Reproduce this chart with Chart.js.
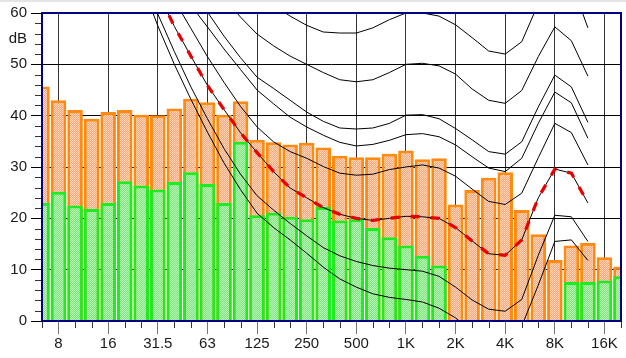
<!DOCTYPE html>
<html><head><meta charset="utf-8">
<script src="https://cdn.jsdelivr.net/npm/chart.js@4.4.0/dist/chart.umd.min.js"></script>
<style>
html,body{margin:0;padding:0;background:#fff;overflow:hidden}
#wrap{position:relative;width:626px;height:358px}
#topline{position:absolute;left:0;top:0;width:626px;height:2px;background:#e4e4e4}
canvas{display:block}
</style></head><body>
<div id="wrap"><canvas id="c" width="626" height="358"></canvas><div id="topline"></div></div>
<script>
// 1/3-octave band centres (categories)
const bands = ['6.3','8','10','12.5','16','20','25','31.5','40','50','63','80','100','125','160','200','250','315','400','500','630','800','1K','1.25K','1.6K','2K','2.5K','3.15K','4K','5K','6.3K','8K','10K','12.5K','16K','20K'];
// labelled (octave) ticks
const octaveLabels = ['8','16','31.5','63','125','250','500','1K','2K','4K','8K','16K'];
const yTickLabels = [0,10,20,30,40,50,60];
const yUnitLabel = 'dB';
const yUnitValue = 55;

// bar series (dB)
const totalLevel = [45.7,43.0,41.1,39.4,40.7,41.1,40.2,40.1,41.4,43.3,42.6,40.2,42.8,35.3,34.8,34.4,34.7,33.8,32.2,31.9,31.9,32.6,33.2,31.5,31.7,22.7,25.5,27.9,29.0,21.6,16.9,11.9,14.7,15.2,12.4,10.6];
const partLevel  = [23.0,25.2,22.5,21.8,23.0,27.2,26.4,25.6,27.1,29.0,26.7,23.0,34.9,20.6,21.1,20.3,19.8,22.2,19.6,19.8,18.1,16.3,14.7,12.7,10.8,0,0,0,0,0,0,0,7.6,7.6,7.9,8.7];

// contour curves, 20 Hz ... 12.5 kHz
const contourFirstBand = '20';
const contour1 = [75,66,57.5,50,43.2,36.8,30.8,25.6,21,18.2,15.8,13.2,10.5,8.2,6.6,5.3,4.6,4.2,3.7,2.5,0.6,-2,-3.5,-3.5,-1,7,15.5,15.8,11.8];
const contour2 = [77.5,68.5,59.8,52.5,45.6,39.4,33.6,28.6,24.4,21.6,19.0,16.6,14.3,12.7,11.6,10.8,10.3,10.0,9.7,8.7,6.6,4.1,2.3,1.9,4.2,12.8,20.6,20.3,15.5];
const contour3 = [77,70.5,64,57.4,51.6,45.9,41.2,36.7,32.8,29.1,25.9,24.0,22.1,20.8,20.0,19.6,20.0,20.4,20.3,20.0,18.2,15.6,13.1,12.8,15.8,24,29.6,28.8,23.0];
const contour4 = [81,75,68.5,62.5,57.0,51.5,46.5,41.8,37.8,34.9,33.0,31.7,30.1,28.8,28.4,28.6,29.5,30.0,30.4,29.8,28.2,25.7,23.3,22.7,24.9,31.8,38.5,36.7,30.4];
const contour5 = [86,79,72.5,66.5,61.5,57.3,53,49,45,42.3,39.7,37.8,36.2,34.8,34.1,34.4,35.2,36.3,36.5,35.9,34.3,32.0,29.8,29.1,31.7,38.5,44.6,42.5,35.6];
const contour6 = [88,81,75,69.5,64.8,60.2,55.5,51.3,47.5,45.3,43.0,40.7,38.9,37.6,37.4,37.6,38.5,40.1,40.2,39.4,37.5,35.3,33.0,32.5,34.9,41.7,47.9,45.6,38.7];
const contour7 = [95,88,82,76.5,71.5,67,63,59.2,55.9,53.6,51.6,50.0,48.4,47.0,46.6,47.0,48.4,50.0,50.2,49.7,48.1,45.2,43.0,42.4,44.9,51.5,57.3,54.6,47.7];
const contour8 = [102,95,88,82,77,72,68,65.5,63.5,61.5,59.4,57.6,56.3,56.1,56.1,57.1,58.7,60.0,60.0,59.4,57.7,55.2,52.6,52.0,54.4,61.8,67.5,66,57.1];
const blackContours = [contour1, contour2, contour3, contour4, contour5, contour6, contour7, contour8];
const highlightedContour = contour3;

function padContour(vals){
  const start = bands.indexOf(contourFirstBand);
  return bands.map((_, i) => (i >= start && i - start < vals.length) ? vals[i - start] : null);
}

const canvas = document.getElementById('c');
const ctx = canvas.getContext('2d');
function makePattern(c1, c2){
  const p = document.createElement('canvas'); p.width = 2; p.height = 2;
  const g = p.getContext('2d');
  g.fillStyle = c1; g.fillRect(0,0,2,2);
  g.fillStyle = c2; g.fillRect(0,0,1,1); g.fillRect(1,1,1,1);
  return ctx.createPattern(p, 'repeat');
}
const orangeFill = makePattern('#f6a677', '#fed9c4');
const greenFill = makePattern('#7ee27e', '#bdf6bd');

const FONT = {family: "'Liberation Sans', Arial, sans-serif", size: 15};

const framePlugin = {
  id: 'frame',
  afterDraw(chart){
    const c = chart.ctx, a = chart.chartArea, x = chart.scales.x, y = chart.scales.y;
    c.save();
    c.strokeStyle = '#333'; c.lineWidth = 1;
    for (let v = 0; v <= 60; v += 2){
      if (yTickLabels.includes(v)) continue;
      const py = Math.round(y.getPixelForValue(v)) + 0.5;
      c.beginPath(); c.moveTo(a.left - 7, py); c.lineTo(a.left, py); c.stroke();
    }
    for (let i = 0; i < bands.length; i++){
      if (octaveLabels.includes(bands[i])) continue;
      const px = Math.round(x.getPixelForValue(i)) + 0.5;
      c.beginPath(); c.moveTo(px, a.bottom); c.lineTo(px, a.bottom + 7); c.stroke();
    }
    c.strokeStyle = '#000080'; c.lineWidth = 2;
    c.strokeRect(a.left, a.top, a.right - a.left, a.bottom - a.top);
    c.restore();
  }
};

const datasets = [];
datasets.push({type:'line', data: padContour(highlightedContour), borderColor:'#e80000', borderWidth:3.2, borderDash:[9,11], pointRadius:0, tension:0, order:-1, clip:0, spanGaps:false});
blackContours.forEach(cv => datasets.push({type:'line', data: padContour(cv), borderColor:'#000', borderWidth:1, pointRadius:0, tension:0, order:0, clip:0, spanGaps:false}));
datasets.push({type:'bar', data: partLevel, backgroundColor: greenFill, borderColor:'#1eec1e', borderWidth:3, grouped:false, order:1, clip:0, barPercentage:0.94, categoryPercentage:1});
datasets.push({type:'bar', data: totalLevel, backgroundColor: orangeFill, borderColor:'#ff8a12', borderWidth:3, grouped:false, order:2, clip:0, barPercentage:0.94, categoryPercentage:1});

new Chart(ctx, {
  type: 'bar',
  data: {labels: bands, datasets},
  options: {
    responsive:false, animation:false, devicePixelRatio:1,
    layout:{padding:{top:10, right:5, left:0, bottom:0}},
    plugins:{legend:{display:false}, tooltip:{enabled:false}},
    scales:{
      x:{
        type:'category', offset:false,
        grid:{offset:false, lineWidth:1,
          color: c => octaveLabels.includes(bands[c.index]) ? '#333' : 'rgba(0,0,0,0)',
          tickColor: c => octaveLabels.includes(bands[c.index]) ? '#777' : 'rgba(0,0,0,0)',
          tickLength:13, drawTicks:true},
        border:{display:false},
        ticks:{autoSkip:false, maxRotation:0, minRotation:0, padding:1, color:'#1a1a1a', font:FONT,
          callback:(v, i) => octaveLabels.includes(bands[i]) ? bands[i] : ''},
        afterFit: s => { s.height = 37; }
      },
      y:{
        min:0, max:60,
        grid:{lineWidth:1,
          color: c => (c.tick && yTickLabels.includes(c.tick.value)) ? '#000' : 'rgba(0,0,0,0)',
          tickColor: c => (c.tick && yTickLabels.includes(c.tick.value)) ? '#000' : 'rgba(0,0,0,0)',
          tickLength:11},
        border:{display:false},
        ticks:{stepSize:1, autoSkip:false, maxTicksLimit:100, padding:4, color:'#1a1a1a', font:FONT,
          callback: v => yTickLabels.includes(v) ? String(v) : (v === yUnitValue ? yUnitLabel : '')},
        afterFit: s => { s.width = 42; }
      }
    }
  },
  plugins:[framePlugin]
});
</script>
</body></html>
